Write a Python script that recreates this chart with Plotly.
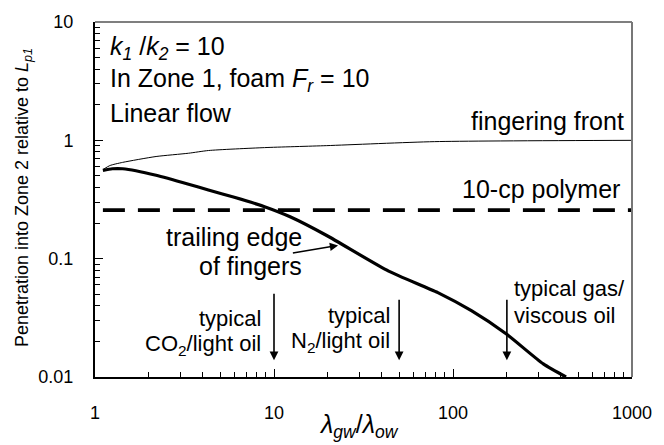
import plotly.graph_objects as go
import math

# ---- data ----
front_x = [1.107, 1.21, 1.426, 2.194, 3.333, 4.30, 8.85, 19.7, 79.0, 1000.0]
front_y = [0.565, 0.612, 0.651, 0.730, 0.778, 0.820, 0.868, 0.902, 0.975, 1.0]

trail_x = [1.107, 1.25, 1.426, 2.194, 3.333, 4.30, 6.0, 8.85, 12.3, 19.7, 43.7, 82.3, 126.7, 197.0, 319.5, 428.0]
trail_y = [0.558, 0.575, 0.575, 0.507, 0.426, 0.380, 0.330, 0.275, 0.226, 0.157, 0.0784, 0.0516, 0.0363, 0.0233, 0.0129, 0.0100]

polymer_x = [1.107, 1000.0]
polymer_y = [0.257, 0.257]

x_ticks = [1, 10, 100, 1000]
x_ticktext = ["1", "10", "100", "1000"]
y_ticks = [0.01, 0.1, 1, 10]
y_ticktext = ["0.01", "0.1", "1", "10"]

case_x = [10, 50, 200]  # typical cases marked by arrows

FONT = "Arial, Liberation Sans, sans-serif"

fig = go.Figure()
fig.add_trace(go.Scatter(x=front_x, y=front_y, mode="lines",
                         line=dict(color="black", width=1, shape="spline", smoothing=0.6),
                         showlegend=False))
fig.add_trace(go.Scatter(x=trail_x, y=trail_y, mode="lines",
                         line=dict(color="black", width=3.2, shape="spline", smoothing=0.6),
                         showlegend=False))
fig.add_trace(go.Scatter(x=polymer_x, y=polymer_y, mode="lines",
                         line=dict(color="black", width=3.8, dash="22px,13px"), showlegend=False))

L, R, T, B = 95, 24, 18, 68
W, H = 664, 445
pw, ph = W - L - R, H - T - B

def px(x):
    return (x - L) / pw

def py(y):
    return (H - B - y) / ph

anns = []

def txt(text, x, y, size, xanchor="left"):
    anns.append(dict(text=text, x=px(x), y=py(y), xref="paper", yref="paper",
                     xanchor=xanchor, yanchor="middle", showarrow=False,
                     font=dict(family=FONT, size=size, color="black")))

BIG = 25
txt("<i>k<sub>1</sub></i> /<i>k<sub>2</sub></i> = 10", 108, 44, BIG)
txt("In Zone 1, foam <i>F<sub>r</sub></i> = 10", 108, 77, BIG)
txt("Linear flow", 108, 110, BIG)
txt("fingering front", 634, 118, BIG, "right")
txt("10-cp polymer", 630, 187, BIG, "right")
txt("trailing edge", 307, 235, BIG, "right")
txt("of fingers", 307, 265, BIG, "right")

SM = 22
txt("typical", 266, 318, SM, "right")
txt("CO<sub>2</sub>/light oil", 266, 345, SM, "right")
txt("typical", 396, 315, SM, "right")
txt("N<sub>2</sub>/light oil", 396, 342, SM, "right")
txt("typical gas/", 518, 288, SM, "left")
txt("viscous oil", 518, 315, SM, "left")

# arrow from label to trailing edge curve
anns.append(dict(text="", x=px(341.7), y=py(244), xref="paper", yref="paper",
                 ax=-46.7, ay=7.7, showarrow=True, arrowhead=2, arrowsize=1.1,
                 arrowwidth=1.5, arrowcolor="black", standoff=0))
# vertical arrows at typical cases
tails = [68, 62, 62]
for cx, t in zip(case_x, tails):
    anns.append(dict(text="", x=math.log10(cx), y=py(360), xref="x", yref="paper",
                     ax=0, ay=-t, showarrow=True, arrowhead=2, arrowsize=1.1,
                     arrowwidth=1.6, arrowcolor="black", standoff=0))

# axis titles
anns.append(dict(text="Penetration into Zone 2 relative to <i>L<sub>p1</sub></i>",
                 x=px(22), y=py(196), xref="paper", yref="paper", textangle=-90,
                 showarrow=False, xanchor="center", yanchor="middle",
                 font=dict(family=FONT, size=18, color="black")))
anns.append(dict(text="<i>λ<sub>gw</sub></i>/<i>λ<sub>ow</sub></i>",
                 x=px(363), y=py(427), xref="paper", yref="paper",
                 showarrow=False, xanchor="center", yanchor="middle",
                 font=dict(family=FONT, size=25, color="black")))

minor_x = [m * d for d in (1, 10, 100) for m in range(2, 10)]
minor_y = [m * d for d in (0.01, 0.1, 1) for m in range(2, 10)]

fig.update_layout(
    width=W, height=H,
    margin=dict(l=L, r=R, t=T, b=B),
    paper_bgcolor="white", plot_bgcolor="white",
    annotations=anns,
    font=dict(family=FONT, color="black"),
    shapes=[
        dict(type="line", xref="paper", yref="paper", x0=0, x1=1, y0=1, y1=1,
             line=dict(color="#555555", width=1.5)),
        dict(type="line", xref="paper", yref="paper", x0=1, x1=1, y0=0, y1=1,
             line=dict(color="#777777", width=2)),
    ],
)
fig.update_xaxes(type="log", range=[0, 3], tickvals=x_ticks, ticktext=x_ticktext,
                 ticks="inside", ticklen=8, tickwidth=1.2, tickcolor="black",
                 showline=True, linecolor="black", linewidth=2,
                 showgrid=False, zeroline=False, ticklabelstandoff=18,
                 tickfont=dict(family=FONT, size=18, color="black"),
                 minor=dict(tickvals=minor_x, ticks="inside", ticklen=5,
                            tickwidth=1, tickcolor="black", showgrid=False))
fig.update_yaxes(type="log", range=[-2, 1], tickvals=y_ticks, ticktext=y_ticktext,
                 ticks="inside", ticklen=8, tickwidth=1.2, tickcolor="black",
                 showline=True, linecolor="black", linewidth=2,
                 showgrid=False, zeroline=False, ticklabelstandoff=16,
                 tickfont=dict(family=FONT, size=18, color="black"),
                 minor=dict(tickvals=minor_y, ticks="inside", ticklen=5,
                            tickwidth=1, tickcolor="black", showgrid=False))

fig.write_html("out.html")
